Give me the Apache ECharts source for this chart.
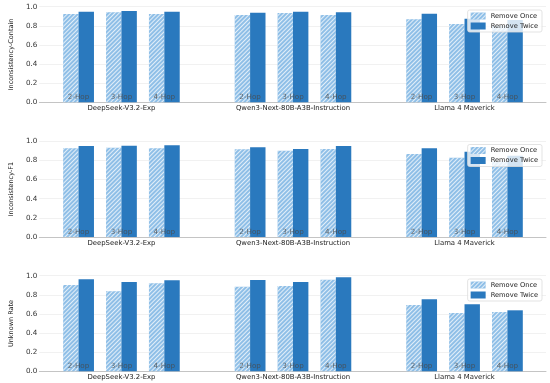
<!DOCTYPE html>
<html><head><meta charset="utf-8">
<script src="https://cdn.jsdelivr.net/npm/echarts@6/dist/echarts.min.js"></script>
<style>html,body{margin:0;padding:0;background:#fff}#c{width:550px;height:383px}</style>
</head><body><div id="c"></div>
<script>
const models = ['DeepSeek-V3.2-Exp', 'Qwen3-Next-80B-A3B-Instruction', 'Llama 4 Maverick'];
const hops = ['2-Hop', '3-Hop', '4-Hop'];
const metrics = ['Inconsistency-Contain', 'Inconsistency-F1', 'Unknown Rate'];
const seriesNames = ['Remove Once', 'Remove Twice'];
const yTicks = [0, 0.2, 0.4, 0.6, 0.8, 1.0];
// values ordered model by model, hop by hop
const containOnce  = [0.924, 0.941, 0.924, 0.913, 0.934, 0.913, 0.868, 0.819, 0.800];
const containTwice = [0.948, 0.955, 0.948, 0.937, 0.948, 0.941, 0.927, 0.875, 0.860];
const f1Once       = [0.927, 0.933, 0.927, 0.916, 0.902, 0.920, 0.867, 0.829, 0.790];
const f1Twice      = [0.951, 0.954, 0.958, 0.937, 0.920, 0.951, 0.927, 0.891, 0.850];
const unknownOnce  = [0.903, 0.837, 0.920, 0.885, 0.892, 0.958, 0.694, 0.610, 0.620];
const unknownTwice = [0.962, 0.934, 0.952, 0.955, 0.934, 0.983, 0.753, 0.701, 0.638];

const panelValues = [[containOnce, containTwice], [f1Once, f1Twice], [unknownOnce, unknownTwice]];
const FONT = 'DejaVu Sans';
const onceColor = '#8fbfe7';
const twiceColor = '#2a79be';
const gridTops = [6.7, 141.3, 275.7];
const gridH = 95.6;
const legendTops = [10, 144.5, 279];

function xPos(i) { return Math.floor(i / 3) * 4 + (i % 3); }

const grids = [], xAxes = [], yAxes = [], series = [], legends = [];
metrics.forEach((m, p) => {
  grids.push({ left: 25, width: 521, top: gridTops[p], height: gridH });
  xAxes.push({
    type: 'value', gridIndex: p, min: -0.915, max: 10.9,
    axisLine: { show: true, lineStyle: { color: '#c4c4c4', width: 1 } },
    axisTick: { show: false }, splitLine: { show: false },
    axisLabel: {
      customValues: [1, 5, 9], margin: 2.5,
      formatter: v => models[Math.round((v - 1) / 4)] || '',
      fontFamily: FONT, fontSize: 6.9, color: '#222'
    }
  });
  yAxes.push({
    type: 'value', gridIndex: p, min: 0, max: 1, interval: 0.2,
    name: m, nameLocation: 'middle', nameGap: 15,
    nameTextStyle: { fontFamily: FONT, fontSize: 6.5, color: '#222' },
    axisLine: { show: false }, axisTick: { show: false },
    splitLine: { show: true, lineStyle: { color: '#eeeeee', width: 0.8 } },
    axisLabel: { formatter: v => v.toFixed(1), fontFamily: FONT, fontSize: 7.2, color: '#333', margin: 2 }
  });
  seriesNames.forEach((s, k) => {
    const vals = panelValues[p][k];
    series.push({
      name: s, type: 'bar', xAxisIndex: p, yAxisIndex: p,
      barWidth: 15.4, barGap: '0%',
      data: vals.map((v, i) => [xPos(i), v]),
      itemStyle: k === 0 ? {
        color: onceColor,
        decal: { symbol: 'rect', dashArrayX: [1, 0], dashArrayY: [1, 2], rotation: -Math.PI / 4, color: 'rgba(255,255,255,0.75)' }
      } : { color: twiceColor },
      emphasis: { disabled: true }, z: 2
    });
  });
  series.push({
    type: 'scatter', xAxisIndex: p, yAxisIndex: p, symbolSize: 1,
    itemStyle: { color: 'rgba(0,0,0,0)' }, z: 5, silent: true,
    data: panelValues[p][0].map((v, i) => [xPos(i), 0]),
    label: {
      show: true, position: 'top', distance: 1,
      formatter: prm => hops[prm.dataIndex % 3],
      fontFamily: FONT, fontSize: 7.2, color: '#4a4a4a'
    }
  });
  legends.push({
    data: seriesNames, orient: 'vertical', right: 8, top: legendTops[p],
    itemWidth: 15, itemHeight: 7, itemGap: 2, padding: [2, 4, 2, 3],
    icon: 'rect',
    backgroundColor: 'rgba(255,255,255,0.8)', borderColor: '#dcdcdc', borderWidth: 0.8, borderRadius: 2,
    textStyle: { fontFamily: FONT, fontSize: 6.7, color: '#222', lineHeight: 8 },
    selectedMode: false
  });
});

const chart = echarts.init(document.getElementById('c'), null, { renderer: 'canvas' });
chart.setOption({
  animation: false,
  backgroundColor: '#fff',
  grid: grids, xAxis: xAxes, yAxis: yAxes, series: series, legend: legends
});
</script></body></html>
